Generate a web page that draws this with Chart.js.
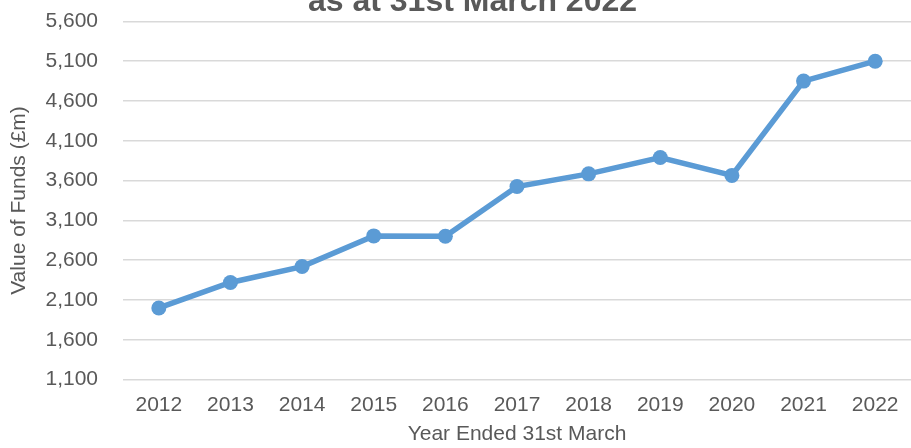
<!DOCTYPE html>
<html>
<head>
<meta charset="utf-8">
<script src="https://cdn.jsdelivr.net/npm/chart.js@4/dist/chart.umd.min.js"></script>
<style>
  html, body { margin: 0; padding: 0; background: #fff; overflow: hidden; }
  #wrap { position: absolute; left: 0; top: -25px; width: 945px; height: 474px; }
</style>
</head>
<body>
<div id="wrap"><canvas id="myChart" width="945" height="474"></canvas></div>
<script>
// values
const years = ['2012', '2013', '2014', '2015', '2016', '2017', '2018', '2019', '2020', '2021', '2022'];
const fundValues = [2000, 2320, 2520, 2905, 2900, 3525, 3685, 3890, 3665, 4850, 5100];
const yMin = 1100;
const yMax = 5600;
const yStep = 500;

const titleText = 'as at 31st March 2022';
const xTitle = 'Year Ended 31st March';
const yTitle = 'Value of Funds (£m)';

const grey = '#595959';
const font = 'Liberation Sans, Arial, sans-serif';

const ctx = document.getElementById('myChart');

new Chart(ctx, {
  type: 'line',
  data: {
    labels: years,
    datasets: [{
      data: fundValues,
      borderColor: '#5b9bd5',
      backgroundColor: '#5b9bd5',
      borderWidth: 5.5,
      pointRadius: 7.5,
      pointBorderWidth: 0,
      tension: 0
    }]
  },
  options: {
    responsive: false,
    animation: false,
    layout: { padding: { left: 0, right: 0, top: 0, bottom: 2 } },
    plugins: {
      legend: { display: false },
      tooltip: { enabled: false },
      title: {
        display: true,
        text: titleText,
        color: grey,
        font: { family: font, size: 32, weight: 'bold' },
        padding: { top: 8, bottom: 0 }
      }
    },
    scales: {
      x: {
        offset: true,
        grid: { display: false, drawTicks: false },
        border: { display: false },
        ticks: { color: grey, font: { family: font, size: 21 }, padding: 13 },
        title: {
          display: true,
          text: xTitle,
          color: grey,
          font: { family: font, size: 21 },
          padding: { top: -9, bottom: 0 }
        }
      },
      y: {
        min: yMin,
        max: yMax,
        grid: { color: '#d9d9d9', lineWidth: 1.5, drawTicks: false },
        border: { display: false },
        ticks: { stepSize: yStep, color: grey, font: { family: font, size: 21 }, padding: 25 },
        title: {
          display: true,
          text: yTitle,
          color: grey,
          font: { family: font, size: 21 },
          padding: { top: 7, bottom: 4 }
        },
        afterFit: function(scale) { scale.width = 123; }
      },
      // empty right-hand strip (the part of the chart cut off by the picture)
      yRight: {
        position: 'right',
        grid: { display: false, drawTicks: false },
        border: { display: false },
        ticks: { display: false },
        afterFit: function(scale) { scale.width = 34; }
      }
    }
  }
});
</script>
</body>
</html>
